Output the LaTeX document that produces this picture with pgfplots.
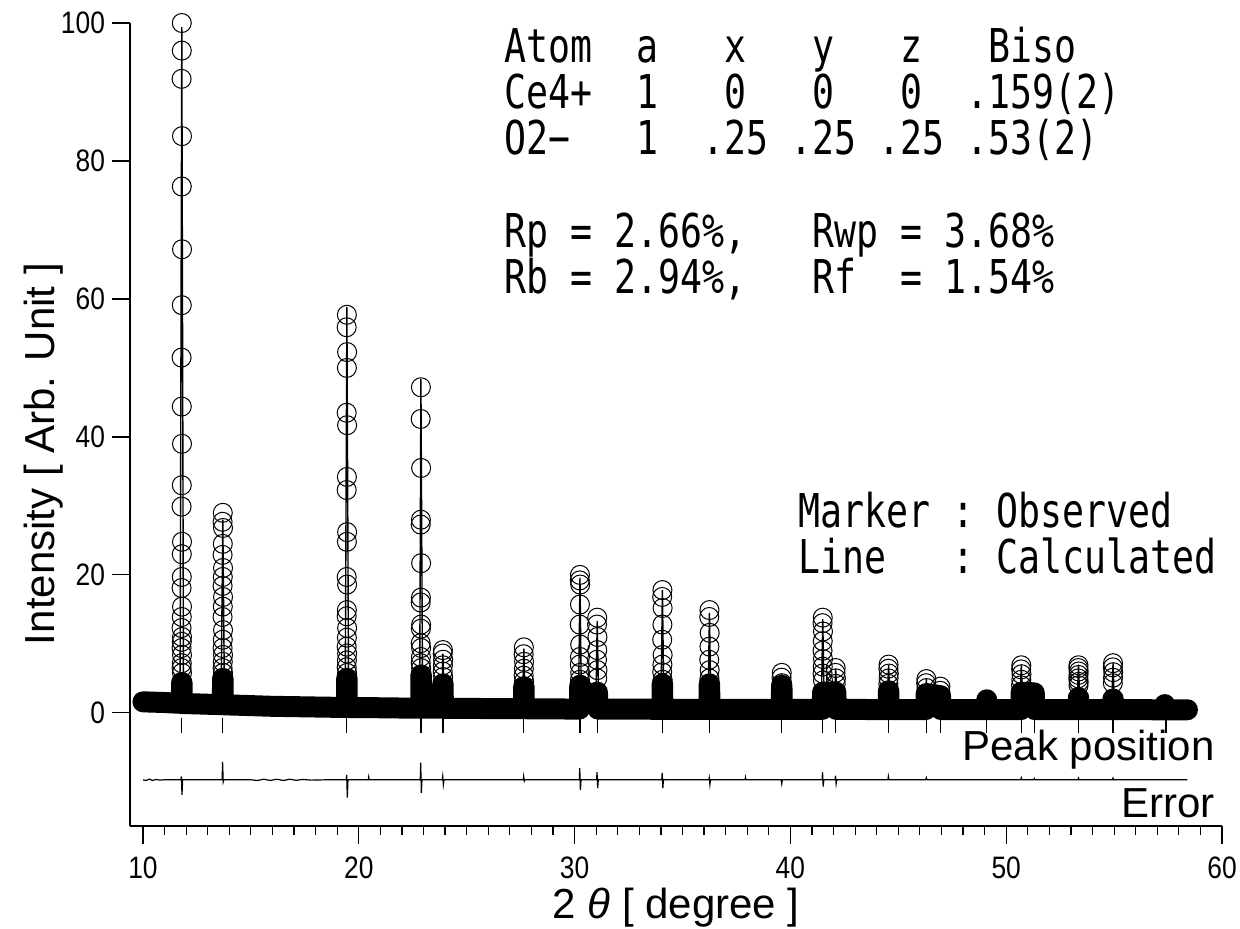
\documentclass[border=0pt]{standalone}
\usepackage{fontspec}
\setmainfont{Liberation Sans}
\newfontfamily\gothicmono[FakeStretch=0.784]{DejaVu Sans Mono}
\newfontfamily\narrowsans[FakeStretch=0.85]{Liberation Sans}
\usepackage{pgfplots}
\pgfplotsset{compat=1.18}
% one monospaced cell of blank space
\newcommand\gap{\hphantom{0}}

\begin{document}
\begin{tikzpicture}
\path[use as bounding box] (-65pt,-51pt) rectangle (555pt,413pt);
\begin{axis}[
  at={(0,0)}, anchor=south west,
  scale only axis, width=546pt, height=401.5pt,
  xmin=9.4, xmax=60, ymin=-16.4, ymax=100,
  axis x line*=bottom, axis y line*=left,
  axis line style={-, line width=0.6pt},
  xtick={10,20,...,60}, minor x tick num=9,
  ytick={0,20,...,100},
  tick align=outside,
  major tick length=9pt, minor tick length=4.5pt,
  every tick/.style={black, line width=0.6pt},
  /pgf/number format/assume math mode=true,
  ticklabel style={font=\narrowsans\fontsize{15.5}{16}\selectfont},
  xticklabel style={yshift=-3pt},
  clip=false,
]
% observed background: densely packed markers merge into a solid band
\addplot[black, line width=10.5pt, line join=round, line cap=round] coordinates {
 (10.0,1.6) (10.5,1.55) (11.0,1.5) (11.5,1.42) (11.78,1.38) (11.79,4.4) (11.81,4.4) (11.82,1.36)
 (12.5,1.3) (13.0,1.25) (13.68,1.18) (13.69,5.0) (13.71,5.0) (13.72,1.17)
 (14.5,1.1) (15.0,1.05) (16.0,0.95) (17.0,0.9) (18.0,0.85) (19.0,0.8)
 (19.43,0.79) (19.44,5.0) (19.46,5.0) (19.47,0.78) (20.0,0.77) (21.0,0.74) (22.0,0.7)
 (22.87,0.68) (22.88,5.5) (22.90,5.5) (22.91,0.68)
 (23.88,0.67) (23.89,4.2) (23.91,4.2) (23.92,0.67) (25.0,0.65) (27.0,0.6)
 (27.63,0.6) (27.64,3.8) (27.66,3.8) (27.67,0.6) (29.0,0.57)
 (30.23,0.55) (30.24,4.0) (30.26,4.0) (30.6,2.0) (31.04,3.0) (31.06,3.0) (31.08,0.55)
 (33.0,0.53) (34.05,0.52) (34.06,4.2) (34.08,4.2) (34.09,0.52)
 (36.23,0.5) (36.24,4.2) (36.26,4.2) (36.27,0.5)
 (39.58,0.5) (39.59,4.0) (39.61,4.0) (39.62,0.5)
 (41.48,0.5) (41.49,3.0) (41.51,3.0) (42.09,3.0) (42.11,3.0) (42.12,0.5)
 (44.53,0.48) (44.54,3.2) (44.56,3.2) (44.57,0.48)
 (46.28,0.48) (46.29,2.8) (46.31,2.8) (46.94,2.5) (46.96,2.5) (46.97,0.48)
 (49.08,0.47) (49.1,1.9) (49.12,0.47)
 (50.68,0.47) (50.69,3.0) (50.71,3.0) (51.3,2.9) (51.32,0.47)
 (53.33,0.46) (53.34,2.2) (53.36,2.2) (53.37,0.46)
 (54.93,0.46) (54.94,2.0) (54.96,2.0) (54.97,0.46)
 (57.33,0.45) (57.35,1.2) (57.37,0.45) (58.4,0.45)
};
% calculated profile
\addplot[black, line width=0.7pt] coordinates {
 (10.0,1.6) (11.0,1.5) (11.72,1.4) (11.8,99.4) (11.88,1.36) (12.5,1.3)
 (13.62,1.18) (13.7,28.0) (13.78,1.17) (15.0,1.05) (17.0,0.9)
 (19.37,0.79) (19.45,58.8) (19.53,0.78) (21.0,0.74)
 (22.82,0.68) (22.88,48.4) (22.96,0.68) (23.84,0.67) (23.9,8.6) (23.96,0.67)
 (27.58,0.6) (27.65,9.3) (27.72,0.6) (30.18,0.55) (30.25,19.6) (30.32,0.55)
 (30.98,0.55) (31.05,13.3) (31.12,0.55) (34.0,0.52) (34.07,17.8) (34.14,0.52)
 (36.18,0.5) (36.25,14.5) (36.32,0.5) (39.53,0.5) (39.6,5.6) (39.67,0.5)
 (41.43,0.5) (41.5,13.6) (41.57,0.5) (42.03,0.5) (42.1,6.4) (42.17,0.5)
 (44.48,0.48) (44.55,7.0) (44.62,0.48) (46.23,0.48) (46.3,4.9) (46.37,0.48)
 (46.88,0.48) (46.95,3.8) (47.02,0.48) (49.03,0.47) (49.1,1.9) (49.17,0.47)
 (50.63,0.47) (50.7,7.0) (50.77,0.47) (51.23,0.47) (51.3,2.8) (51.37,0.47)
 (53.28,0.46) (53.35,7.0) (53.42,0.46) (54.88,0.46) (54.95,7.2) (55.02,0.46)
 (57.28,0.45) (57.35,1.2) (57.42,0.45) (58.4,0.45)
};
% observed intensities on the peaks
\addplot[only marks, mark=o, mark size=4.75pt, mark options={line width=0.5pt}, black] coordinates {
 (11.80,100.0) (11.80,96.0) (11.79,91.9) (11.81,83.6) (11.80,76.3) (11.81,67.2) (11.80,59.1)
 (11.79,51.5) (11.80,44.4) (11.81,39.0) (11.80,33.0) (11.79,29.9) (11.81,24.8) (11.80,23.0)
 (11.80,19.7) (11.79,18.1) (11.81,15.4) (11.80,13.9) (11.79,12.3) (11.81,11.0) (11.80,10.3)
 (11.79,9.4) (11.81,8.4) (11.80,7.2) (11.79,6.5) (11.81,5.8)
 (13.70,29.0) (13.69,27.7) (13.71,26.8) (13.70,24.5) (13.69,22.9) (13.71,21.0) (13.70,19.7)
 (13.69,18.4) (13.71,16.8) (13.70,15.4) (13.69,13.9) (13.71,12.0) (13.70,10.6) (13.69,9.4)
 (13.71,8.4) (13.70,7.4) (13.69,6.5) (13.71,5.8)
 (19.45,57.7) (19.44,55.9) (19.46,52.3) (19.45,50.0) (19.44,43.5) (19.46,41.7) (19.45,34.2)
 (19.44,32.3) (19.46,26.2) (19.45,24.8) (19.44,19.7) (19.46,18.6) (19.45,14.9) (19.44,14.0)
 (19.46,12.3) (19.45,10.9) (19.44,9.6) (19.46,8.6) (19.45,7.6) (19.44,6.6) (19.46,5.8)
 (22.88,47.2) (22.87,42.6) (22.89,35.5) (22.88,28.0) (22.87,27.3) (22.89,21.7) (22.88,16.7)
 (22.87,16.0) (22.89,12.8) (22.88,12.2) (22.87,10.1) (22.89,9.4) (22.88,8.1) (22.87,7.2)
 (22.89,6.5)
 (23.90,9.1) (23.89,8.6) (23.91,7.7) (23.90,6.9) (23.89,6.0) (23.91,5.2)
 (27.65,9.5) (27.64,8.5) (27.66,7.4) (27.65,6.4) (27.64,5.4) (27.66,4.6)
 (30.25,20.0) (30.24,19.2) (30.26,18.6) (30.25,15.7) (30.24,12.8) (30.26,9.9) (30.25,8.1)
 (30.24,7.0) (30.26,5.8) (30.25,4.8)
 (31.05,13.8) (31.04,12.8) (31.06,11.0) (31.05,9.1) (31.04,7.7) (31.06,6.2) (31.05,5.0)
 (34.07,17.8) (34.06,16.8) (34.08,15.2) (34.07,12.8) (34.06,10.6) (34.08,8.4) (34.07,7.0)
 (34.06,5.9) (34.08,4.8)
 (36.25,14.9) (36.24,13.9) (36.26,11.6) (36.25,9.6) (36.24,7.7) (36.26,6.2) (36.25,5.0)
 (39.60,5.8) (39.59,5.1) (39.61,4.3)
 (41.50,13.8) (41.49,13.0) (41.51,11.8) (41.50,10.4) (41.49,9.0) (41.51,7.8) (41.50,6.7)
 (41.49,5.7) (41.51,4.7)
 (42.10,6.5) (42.09,5.8) (42.11,5.0) (42.10,4.2)
 (44.55,7.0) (44.54,6.4) (44.56,5.7) (44.55,5.0) (44.54,4.2)
 (46.30,4.9) (46.29,4.3) (46.31,3.6)
 (46.95,3.8) (46.94,3.2)
 (50.70,6.9) (50.69,6.3) (50.71,5.6) (50.70,4.8) (50.69,4.0)
 (53.35,6.9) (53.34,6.5) (53.36,6.0) (53.35,5.5) (53.34,5.0) (53.36,4.5) (53.35,4.0)
 (54.95,7.2) (54.94,6.6) (54.96,5.9) (54.95,5.1) (54.94,4.3)
};
% Bragg peak positions
\addplot[draw=none, mark=none, error bars/.cd, y dir=both, y explicit,
  error mark=none, error bar style={black, line width=0.6pt}] coordinates {
 (11.8,-1.8) +- (0,1.1) (13.7,-1.8) +- (0,1.1) (19.45,-1.8) +- (0,1.1)
 (22.88,-1.8) +- (0,1.1) (23.9,-1.8) +- (0,1.1) (27.65,-1.8) +- (0,1.1)
 (30.25,-1.8) +- (0,1.1) (31.05,-1.8) +- (0,1.1) (34.07,-1.8) +- (0,1.1)
 (36.25,-1.8) +- (0,1.1) (39.6,-1.8) +- (0,1.1) (41.5,-1.8) +- (0,1.1)
 (42.1,-1.8) +- (0,1.1) (44.55,-1.8) +- (0,1.1) (46.3,-1.8) +- (0,1.1)
 (46.95,-1.8) +- (0,1.1) (49.1,-1.8) +- (0,1.1) (50.7,-1.8) +- (0,1.1)
 (51.3,-1.8) +- (0,1.1) (53.35,-1.8) +- (0,1.1) (54.95,-1.8) +- (0,1.1)
 (57.4,-1.8) +- (0,1.1)
};
% difference curve (observed - calculated), offset by -9.7
\addplot[black, line width=0.6pt] coordinates {
 (10.0,-9.7) (10.15,-9.8) (10.3,-9.6) (10.45,-9.8) (10.6,-9.65) (10.8,-9.75) (11.0,-9.7)
 (11.76,-9.7) (11.78,-9.2) (11.81,-11.9) (11.84,-9.7)
 (13.67,-9.7) (13.69,-7.1) (13.72,-10.0) (13.75,-9.7)
 (15.0,-9.7) (15.3,-9.8) (15.6,-9.62) (15.9,-9.8) (16.2,-9.62) (16.5,-9.8) (16.8,-9.62)
 (17.1,-9.78) (17.4,-9.65) (17.8,-9.75) (18.5,-9.7)
 (19.42,-9.7) (19.44,-9.0) (19.47,-12.3) (19.5,-9.7)
 (20.44,-9.7) (20.46,-9.3) (20.48,-9.7)
 (22.85,-9.7) (22.87,-7.2) (22.9,-11.6) (22.93,-9.7)
 (23.87,-9.7) (23.89,-9.2) (23.92,-10.4) (23.95,-9.7)
 (27.62,-9.7) (27.64,-9.2) (27.67,-9.9) (27.7,-9.7)
 (30.22,-9.7) (30.24,-8.0) (30.27,-11.2) (30.3,-9.7)
 (31.02,-9.7) (31.04,-8.6) (31.07,-10.9) (31.1,-9.7)
 (34.04,-9.7) (34.06,-8.7) (34.09,-10.9) (34.12,-9.7)
 (36.22,-9.7) (36.24,-9.4) (36.27,-10.4) (36.3,-9.7)
 (37.9,-9.7) (37.92,-9.35) (37.94,-9.7)
 (39.57,-9.7) (39.6,-10.3) (39.63,-9.7)
 (41.47,-9.7) (41.49,-8.6) (41.52,-10.7) (41.55,-9.7)
 (42.07,-9.7) (42.09,-9.1) (42.12,-10.3) (42.15,-9.7)
 (44.52,-9.7) (44.54,-9.2) (44.57,-9.7)
 (46.27,-9.7) (46.3,-9.4) (46.33,-9.7)
 (50.67,-9.7) (50.7,-9.4) (50.73,-9.7)
 (51.27,-9.7) (51.3,-9.5) (51.33,-9.7)
 (53.32,-9.7) (53.35,-9.45) (53.38,-9.7)
 (54.92,-9.7) (54.95,-9.45) (54.98,-9.7)
 (58.4,-9.7)
};
\end{axis}

% axis titles
\node[rotate=90, anchor=base, inner sep=0pt, font=\fontsize{21}{25}\selectfont]
  at (-38pt,186pt) {Intensity [ Arb. Unit ]};
\node[anchor=base, inner sep=0pt, font=\fontsize{21}{25}\selectfont]
  at (273pt,-46pt) {2 {\itshape θ} [ degree ]};
\node[anchor=base east, inner sep=0pt, font=\fontsize{21}{25}\selectfont]
  at (542.5pt,33pt) {Peak position};
\node[anchor=base east, inner sep=0pt, font=\fontsize{21}{25}\selectfont]
  at (542.5pt,4.5pt) {Error};

% refinement results
\begin{scope}[every node/.style={anchor=base west, inner sep=0pt,
    font=\gothicmono\fontsize{23.3}{23}\selectfont}]
\node at (187pt,381.5pt) {Atom\gap\gap a\gap\gap\gap x\gap\gap\gap y\gap\gap\gap z\gap\gap\gap Biso};
\node at (187pt,358.5pt) {Ce4+\gap\gap 1\gap\gap\gap 0\gap\gap\gap 0\gap\gap\gap 0\gap\gap .159(2)};
\node at (187pt,335.5pt) {O2−\gap\gap\gap 1\gap\gap .25\gap .25\gap .25\gap .53(2)};
\node at (187pt,289.5pt) {Rp\gap =\gap 2.66\%,\gap\gap\gap Rwp\gap =\gap 3.68\%};
\node at (187pt,266.5pt) {Rb\gap =\gap 2.94\%,\gap\gap\gap Rf\gap\gap =\gap 1.54\%};
\node at (334pt,149.5pt) {Marker\gap :\gap Observed};
\node at (334pt,126.5pt) {Line\gap\gap\gap :\gap Calculated};
\end{scope}
\end{tikzpicture}
\end{document}
